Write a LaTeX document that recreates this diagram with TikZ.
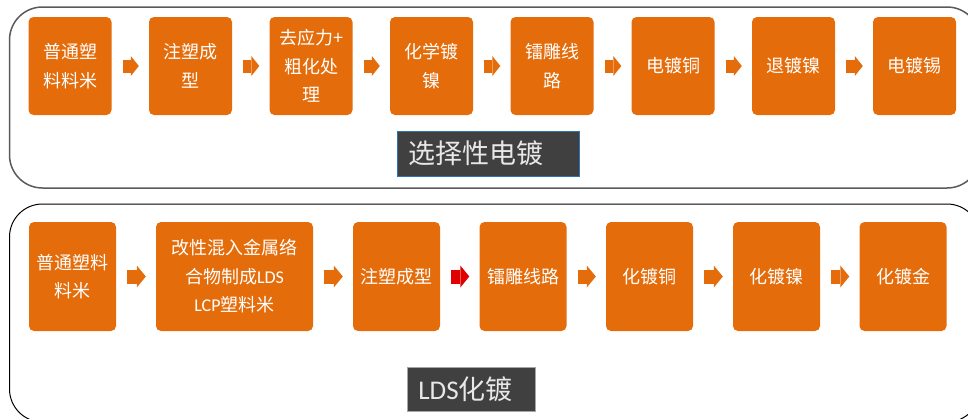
\documentclass[tikz,border=0pt]{standalone}
\usepackage{fontspec}
\setmainfont{Noto Sans CJK SC}
\newfontfamily\latf{Carlito}
\usetikzlibrary{arrows.meta}
\definecolor{orng}{HTML}{E46C0A}
\definecolor{dgray}{HTML}{404040}
\definecolor{lblue}{HTML}{2E75B6}
\definecolor{lgray}{HTML}{E8E8E8}
\definecolor{frgray}{HTML}{5A5A5A}
\definecolor{arred}{HTML}{E00000}
\begin{document}
\begin{tikzpicture}[x=1pt,y=-1pt,
  stepbox/.style={fill=orng, rounded corners=5pt, minimum width=83pt, minimum height=98pt,
    text=white, font=\fontsize{18}{28.5}\selectfont, align=center, inner sep=0pt},
  stepboxb/.style={stepbox, minimum width=87pt, minimum height=109pt},
  flow/.style={draw=orng, line width=13pt, line cap=butt,
    -{Triangle[width=20pt,length=8pt,line width=0pt]}, shorten <=11pt, shorten >=10pt},
  flowb/.style={flow, line width=14pt, -{Triangle[width=22pt,length=9pt,line width=0pt]}},
  lbl/.style={fill=dgray, text=lgray, font=\fontsize{27}{27}\selectfont, align=left,
    inner xsep=11pt, inner ysep=0pt, anchor=west},
  frame/.style={rounded corners=33pt}]
\useasboundingbox (0,0) rectangle (968,418);
\clip (0,0) rectangle (968,418);
% outer frames
\draw[frame, draw=frgray, line width=1.5pt] (9.5,7) rectangle (980,188);
\draw[frame, draw=black, line width=1pt] (9.5,204) rectangle (980,422);
% top row
\node[stepbox] (t1) at (70,66) {普通塑\\料料米};
\node[stepbox] (t2) at (190.5,66) {注塑成\\型};
\node[stepbox] (t3) at (311,66) {去应力+\\粗化处\\理};
\node[stepbox] (t4) at (431.5,66) {化学镀\\镍};
\node[stepbox] (t5) at (552,66) {镭雕线\\路};
\node[stepbox] (t6) at (673,66) {电镀铜};
\node[stepbox] (t7) at (793.5,66) {退镀镍};
\node[stepbox] (t8) at (914.5,66) {电镀锡};
\foreach \a/\b in {t1/t2,t2/t3,t3/t4,t4/t5,t5/t6,t6/t7,t7/t8}
  \draw[flow] (\a) -- (\b);
\node[lbl, draw=lblue, line width=0.8pt, text width=160pt, minimum height=45pt] (l1) at (397,153.5) {选择性电镀};
% bottom row
\node[stepboxb] (b1) at (72.5,276.5) {普通塑料\\料米};
\node[stepboxb, minimum width=157pt] (b2) at (234.5,276.5) {改性混入金属络\\合物制成{\latf LDS}\\{\latf LCP}塑料米};
\node[stepboxb] (b3) at (396.5,276.5) {注塑成型};
\node[stepboxb] (b4) at (523,276.5) {镭雕线路};
\node[stepboxb] (b5) at (649.5,276.5) {化镀铜};
\node[stepboxb] (b6) at (776.5,276.5) {化镀镍};
\node[stepboxb] (b7) at (903,276.5) {化镀金};
\foreach \a/\b in {b1/b2,b2/b3,b4/b5,b5/b6,b6/b7}
  \draw[flowb] (\a) -- (\b);
\draw[flowb, draw=arred] (b3) -- (b4);
\node[lbl, draw=gray!70, line width=0.8pt, text width=106pt, minimum height=44pt] (l2) at (407,389) {{\latf LDS}化镀};
\end{tikzpicture}
\end{document}
